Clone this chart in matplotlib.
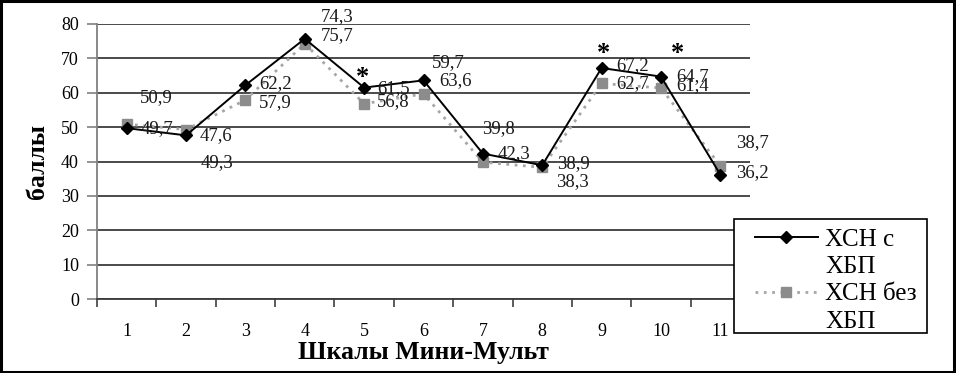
import matplotlib
matplotlib.use('Agg')
import matplotlib.pyplot as plt
from matplotlib.lines import Line2D
from matplotlib.patches import Rectangle

# ---- data ----
categories = ['1', '2', '3', '4', '5', '6', '7', '8', '9', '10', '11']
with_ckd = [49.7, 47.6, 62.2, 75.7, 61.5, 63.6, 42.3, 38.9, 67.2, 64.7, 36.2]
without_ckd = [50.9, 49.3, 57.9, 74.3, 56.8, 59.7, 39.8, 38.3, 62.7, 61.4, 38.7]
series_names = ['ХСН с\nХБП', 'ХСН без\nХБП']
significant = ['5', '9', '10']
y_ticks = [0, 10, 20, 30, 40, 50, 60, 70, 80]
x_title = 'Шкалы Мини-Мульт'
y_title = 'баллы'

# ---- layout (pixel offsets of value labels, star positions) ----
off_with = [(30, 0), (30, 0), (30, 2), (32, 3), (29, -1), (32, 0),
            (31, 0), (31, 2), (31, 2), (32, 0), (32, 2)]
off_without = [(30, 26), (31, -33), (30, -3), (32, 27), (29, 2), (25, 31),
               (16, 34), (30, -14), (31, 0), (32, 2), (32, 23)]
star_layout = {'5': (-2, 64.5), '9': (2, 71.5), '10': (17, 71.5)}

plt.rcParams['font.family'] = ['Liberation Serif', 'DejaVu Serif']

W, H = 956, 373
fig = plt.figure(figsize=(W / 100, H / 100), dpi=100)
fig.patch.set_facecolor('white')
L, R, T, B = 97, 750, 24, 299
ax = fig.add_axes([L / W, 1 - B / H, (R - L) / W, (B - T) / H])

x = list(range(1, len(categories) + 1))

ax.plot(x, with_ckd, color='black', lw=1.4, marker='D', markersize=6.5,
        markerfacecolor='black', markeredgecolor='black', zorder=4)
ax.plot(x, without_ckd, color='#a6a6a6', lw=2.0, linestyle=(0, (1, 2)),
        marker='s', markersize=6.5, markerfacecolor='#8c8c8c',
        markeredgecolor='#8c8c8c', zorder=3)

def fmt(v):
    return f'{v:.1f}'.replace('.', ',')

for xi, v, (dx, dy) in zip(x, with_ckd, off_with):
    ax.annotate(fmt(v), (xi, v), xytext=(dx, dy), textcoords='offset pixels',
                ha='center', va='center', fontsize=13.5, color='#1a1a1a', zorder=6)
for xi, v, (dx, dy) in zip(x, without_ckd, off_without):
    ax.annotate(fmt(v), (xi, v), xytext=(dx, dy), textcoords='offset pixels',
                ha='center', va='center', fontsize=13.5, color='#1a1a1a', zorder=6)

for c in significant:
    dx, yv = star_layout[c]
    ax.annotate('*', (categories.index(c) + 1, yv), xytext=(dx, 0),
                textcoords='offset pixels', ha='center', va='center',
                fontsize=19, fontweight='bold', color='black', zorder=6)

ax.set_xlim(0.5, len(categories) + 0.5)
ax.set_ylim(0, 80)
ax.set_yticks(y_ticks)
ax.set_xticks(x)
ax.set_xticklabels(categories)
ax.set_xticks([i + 0.5 for i in range(0, len(categories) + 1)], minor=True)
ax.tick_params(axis='x', which='major', length=0, pad=17, labelsize=13)
ax.tick_params(axis='x', which='minor', length=6, width=1.2, color='#404040', direction='out')
ax.tick_params(axis='y', which='major', length=7, width=1.2, color='#808080',
               direction='out', pad=6, labelsize=13)

ax.yaxis.grid(True, color='#3c3c3c', lw=1.3)
ax.set_axisbelow(True)
for s in ['top', 'right']:
    ax.spines[s].set_visible(False)
ax.spines['left'].set_color('#808080')
ax.spines['left'].set_linewidth(1.3)
ax.spines['bottom'].set_color('#3c3c3c')
ax.spines['bottom'].set_linewidth(1.3)

ax.set_xlabel(x_title, fontsize=18.5, fontweight='bold')
ax.xaxis.set_label_coords(0.5, (B - 353) / (B - T))
ax.xaxis.label.set_verticalalignment('center')
ax.set_ylabel(y_title, fontsize=18.5, fontweight='bold')
ax.yaxis.set_label_coords((38 - L) / (R - L), 0.5)
ax.yaxis.label.set_verticalalignment('center')

# legend frame
fig.add_artist(Rectangle((734 / W, 1 - 333 / H), 193 / W, 114 / H,
                         transform=fig.transFigure, facecolor='white',
                         edgecolor='black', lw=1.2, zorder=2))
h1 = Line2D([], [], color='black', lw=1.4, marker='D', markersize=6.5)
h2 = Line2D([], [], color='#a6a6a6', lw=2.0, linestyle=(0, (1, 2)),
            marker='s', markersize=6.5, markerfacecolor='#8c8c8c',
            markeredgecolor='#8c8c8c')
blank = Line2D([], [], linestyle='none', marker='none')
n1 = series_names[0].split('\n')
n2 = series_names[1].split('\n')
leg = fig.legend([h1, blank, h2, blank], [n1[0], n1[1], n2[0], n2[1]],
                 loc='upper left', bbox_to_anchor=(755 / W, 1 - 228 / H),
                 bbox_transform=fig.transFigure, frameon=False,
                 borderpad=0, borderaxespad=0, fontsize=18,
                 handlelength=2.5, handletextpad=0.3, labelspacing=0.2)
leg.set_zorder(5)

# outer border
fig.add_artist(Rectangle((0.001, 0.002), 0.997, 0.995, transform=fig.transFigure,
                         fill=False, edgecolor='black', lw=2.2, zorder=10))

fig.savefig('out.png', dpi=100)
